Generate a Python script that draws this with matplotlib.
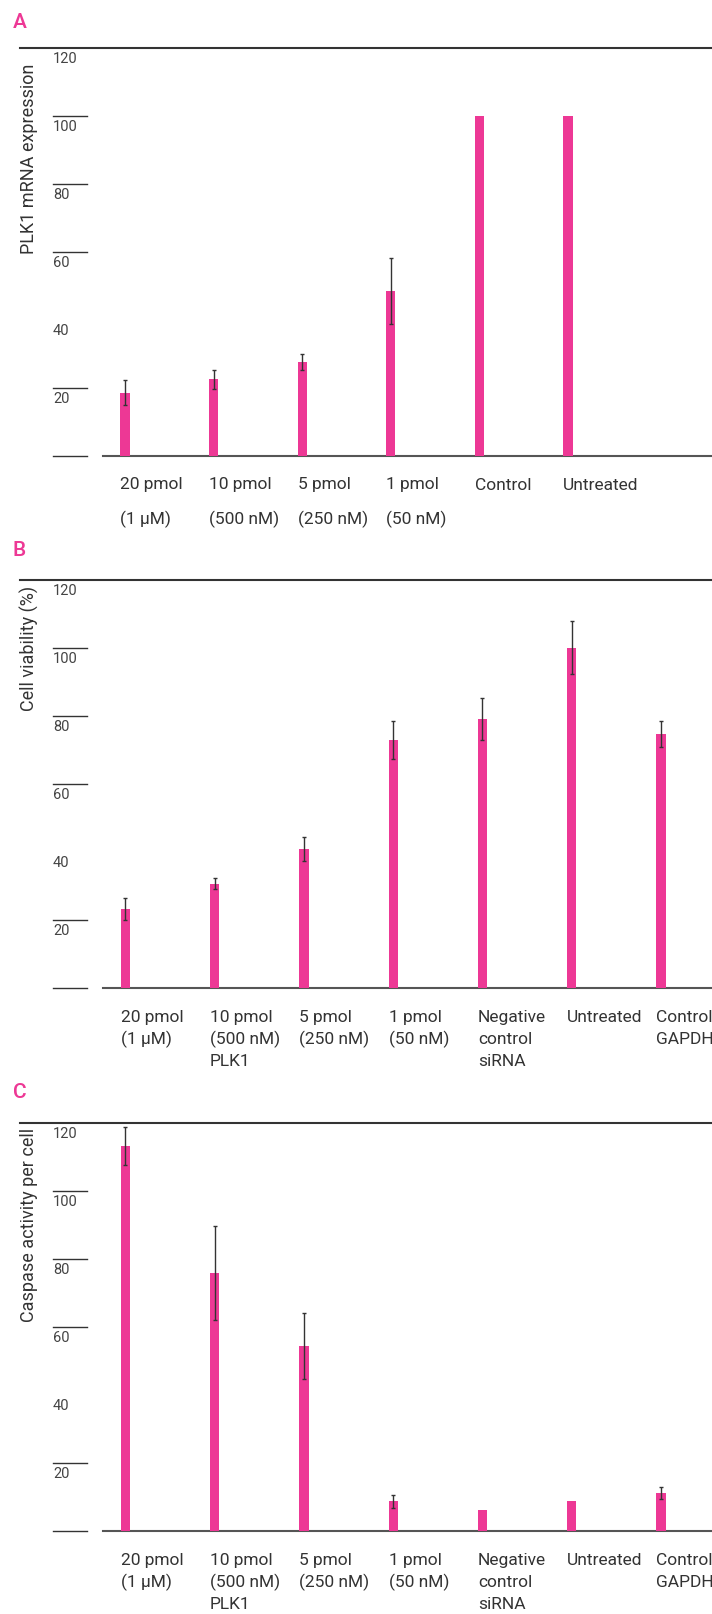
import matplotlib.pyplot as plt
from matplotlib import transforms
from matplotlib.transforms import offset_copy

plt.rcParams['font.family'] = ['Roboto', 'DejaVu Sans']

PINK = '#ED3895'
W, H = 712, 1614

# Panel A: PLK1 mRNA expression
labels_a = [['20 pmol', '(1 µM)'], ['10 pmol', '(500 nM)'], ['5 pmol', '(250 nM)'],
            ['1 pmol', '(50 nM)'], ['Control'], ['Untreated']]
expr = [18.6, 22.6, 27.6, 48.5, 100, 100]
expr_err = [3.7, 2.8, 2.4, 9.7, 0, 0]

# Panels B and C share categories
labels_bc = [['20 pmol', '(1 µM)'], ['10 pmol', '(500 nM)', 'PLK1'], ['5 pmol', '(250 nM)'],
             ['1 pmol', '(50 nM)'], ['Negative', 'control', 'siRNA'], ['Untreated'],
             ['Control', 'GAPDH']]
viab = [23.3, 30.7, 40.9, 73.0, 79.2, 100.1, 74.8]
viab_err = [3.2, 1.6, 3.6, 5.5, 6.3, 7.8, 3.7]
casp = [113.3, 76.0, 54.5, 8.9, 6.3, 8.9, 11.3]
casp_err = [5.5, 13.8, 9.8, 1.9, 0, 0, 1.7]

ref_lines = [0, 20, 60, 80, 100]
tick_vals = [20, 40, 60, 80, 100, 120]

fig = plt.figure(figsize=(W / 100, H / 100), dpi=100)

# letter, ylabel, labels, values, errors, baseline px, first bar px, step px,
# line gap px, letter y px, ylabel top px
panels = [
    ('A', 'PLK1 mRNA expression', labels_a, expr, expr_err, 456, 125, 88.6, 34, 23, 64),
    ('B', 'Cell viability (%)', labels_bc, viab, viab_err, 988.3, 125.3, 89.3, 22, 550, 586),
    ('C', 'Caspase activity per cell', labels_bc, casp, casp_err, 1531.3, 125.3, 89.3, 22, 1092, 1128),
]

for letter, ylabel, labels, vals, errs, base, c0, step, gap, ly, yt in panels:
    ax = fig.add_axes([0, (H - base) / H, 1, 408 / H])
    ax.set_ylim(0, 120)
    x0 = -c0 / step
    ax.set_xlim(x0, x0 + W / step)
    ax.axis('off')

    xs = list(range(len(vals)))
    width = 9.3 / step
    ax.bar(xs, vals, width=width, color=PINK, zorder=2)
    ex = [x for x, e in zip(xs, errs) if e > 0]
    ey = [v for v, e in zip(vals, errs) if e > 0]
    ee = [e for e in errs if e > 0]
    ax.errorbar(ex, ey, yerr=ee, fmt='none', ecolor='#333333', elinewidth=1,
                capsize=1.6, capthick=1, zorder=3)

    # short reference lines, top line and baseline
    for v in ref_lines:
        ax.axhline(v, 53 / W, 87 / W, color='#333333', lw=1, clip_on=False)
    ax.axhline(120, 20 / W, 1, color='#333333', lw=1.5, clip_on=False)
    ax.axhline(0, 103 / W, 1, color='#555555', lw=1.5, clip_on=False, zorder=1)

    # y tick labels sit just under their line
    blend = transforms.blended_transform_factory(ax.transAxes, ax.transData)
    tick_tr = offset_copy(blend, fig=fig, y=-11, units='dots')
    for v in tick_vals:
        ax.text(53 / W, v, str(v), transform=tick_tr, ha='left', va='center',
                fontsize=10.5, color='#444444', clip_on=False)

    # category labels, left aligned to the bar
    for i, lines in enumerate(labels):
        for k, line in enumerate(lines):
            tr = offset_copy(ax.transData, fig=fig, y=-(29 + k * gap), units='dots')
            ax.text(i - width / 2, 0, line, transform=tr, ha='left', va='center',
                    fontsize=12.5, color='#333333', clip_on=False)

    fig.text(13 / W, 1 - ly / H, letter, color=PINK, fontsize=15, fontweight='medium',
             ha='left', va='center')
    fig.text(29 / W, 1 - yt / H, ylabel, rotation=90, ha='center', va='top',
             fontsize=13, color='#333333')

fig.savefig('out.png', dpi=100)
